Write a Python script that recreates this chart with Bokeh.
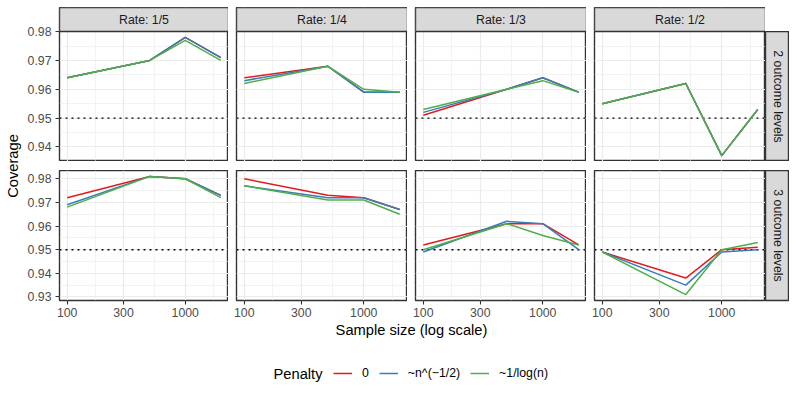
import math
from bokeh.plotting import figure
from bokeh.layouts import row, column
from bokeh.models import (Range1d, FixedTicker, PrintfTickFormatter, Spacer, Label,
                          Legend, LegendItem, Span)
from bokeh.core.properties import value
from bokeh.embed import file_html
from bokeh.resources import INLINE

# ---------------- data ----------------
sample_size = [100, 500, 1000, 2000]
x_tick_values = [100, 300, 1000]
x_minor_values = [math.sqrt(a * b) for a, b in zip([100, 300, 1000], [300, 1000, 3000])]
rate_labels = ["Rate: 1/5", "Rate: 1/4", "Rate: 1/3", "Rate: 1/2"]
level_labels = ["2 outcome levels", "3 outcome levels"]
penalty_labels = ["0", "~n^(\u22121/2)", "~1/log(n)"]
penalty_colors = ["#E41A1C", "#377EB8", "#4DAF4A"]
target_coverage = 0.95

# each panel: one list per penalty (0, ~n^(-1/2), ~1/log(n)), values at sample_size
lv2_rate_1_5 = [[0.964, 0.970, 0.978, 0.971], [0.964, 0.970, 0.978, 0.971], [0.964, 0.970, 0.977, 0.970]]
lv2_rate_1_4 = [[0.964, 0.968, 0.959, 0.959], [0.963, 0.968, 0.959, 0.959], [0.962, 0.968, 0.960, 0.959]]
lv2_rate_1_3 = [[0.951, 0.960, 0.964, 0.959], [0.952, 0.960, 0.964, 0.959], [0.953, 0.960, 0.963, 0.959]]
lv2_rate_1_2 = [[0.955, 0.962, 0.937, 0.953], [0.955, 0.962, 0.937, 0.953], [0.955, 0.962, 0.937, 0.953]]

lv3_rate_1_5 = [[0.972, 0.981, 0.980, 0.973], [0.969, 0.981, 0.980, 0.973], [0.968, 0.981, 0.980, 0.972]]
lv3_rate_1_4 = [[0.980, 0.973, 0.972, 0.967], [0.977, 0.972, 0.972, 0.967], [0.977, 0.971, 0.971, 0.965]]
lv3_rate_1_3 = [[0.952, 0.961, 0.961, 0.952], [0.949, 0.962, 0.961, 0.950], [0.950, 0.961, 0.956, 0.952]]
lv3_rate_1_2 = [[0.949, 0.938, 0.950, 0.951], [0.949, 0.935, 0.949, 0.950], [0.949, 0.931, 0.950, 0.953]]

y_ticks_lv2 = [0.94, 0.95, 0.96, 0.97, 0.98]
y_ticks_lv3 = [0.93, 0.94, 0.95, 0.96, 0.97, 0.98]
y_minor = [0.935, 0.945, 0.955, 0.965, 0.975]

rows_data = [[lv2_rate_1_5, lv2_rate_1_4, lv2_rate_1_3, lv2_rate_1_2],
             [lv3_rate_1_5, lv3_rate_1_4, lv3_rate_1_3, lv3_rate_1_2]]
rows_ticks = [y_ticks_lv2, y_ticks_lv3]

# ---------------- style / layout ----------------
FONT = "Liberation Sans"
SMALL = "12.3px"
BIG = "14.7px"
LW = 1.5
PW, PH = 171, 130          # panel frame size
STRIP = 24                 # strip thickness
TOP = 7                    # space above the strips
ROWGAP = 9
YLAB_W = 24
YAX = 33                   # left axis area
PADL = 3                   # small left border of the other panels
SPACER = 5
XAX = 22                   # bottom axis area

lo, hi = math.log10(min(sample_size)), math.log10(max(sample_size))
pad = 0.05 * (hi - lo)
x_lo, x_hi = 10 ** (lo - pad), 10 ** (hi + pad)


def y_limits(panels):
    vals = [v for pnl in panels for ser in pnl for v in ser]
    a, b = min(vals), max(vals)
    e = 0.05 * (b - a)
    return a - e, b + e


def style_grid(p, xt, yt):
    p.xgrid.ticker = xt
    p.ygrid.ticker = yt
    for g in (p.xgrid[0], p.ygrid[0]):
        g.grid_line_color = "#EBEBEB"
        g.grid_line_width = 1.2
        g.minor_grid_line_color = "#EBEBEB"
        g.minor_grid_line_width = 0.6


def style_axis(ax, standoff):
    ax.axis_line_color = None
    ax.major_tick_line_color = "#333333"
    ax.major_tick_line_width = 1.1
    ax.major_tick_in = 0
    ax.major_tick_out = 4
    ax.minor_tick_line_color = None
    ax.major_label_standoff = standoff
    ax.major_label_text_color = "#4D4D4D"
    ax.major_label_text_font = FONT
    ax.major_label_text_font_size = SMALL


def make_panel(ri, ci, panel, yr, yticks):
    has_y = ci == 0
    has_x = ri == 1
    has_strip = ri == 0
    y0, y1 = yr
    frame_h = PH
    extra = {}
    if has_strip:
        # frame also holds the strip on top
        frame_h = PH + STRIP
        y1 = y1 + (y1 - y0) * STRIP / PH
        extra = {"strip": Range1d(-PH / STRIP, 1)}
    left = YAX if has_y else PADL
    p = figure(width=PW + left, height=frame_h + (XAX if has_x else 0),
               x_axis_type="log", x_range=Range1d(x_lo, x_hi), y_range=Range1d(y0, y1),
               x_axis_location="below" if has_x else None,
               y_axis_location="left" if has_y else None,
               output_backend="svg", toolbar_location=None,
               min_border_left=left, min_border_right=0,
               min_border_top=0, min_border_bottom=XAX if has_x else 0,
               background_fill_color="white", border_fill_color="white",
               outline_line_color="#333333", outline_line_width=1.4)
    if extra:
        p.extra_y_ranges = extra
    xt = FixedTicker(ticks=x_tick_values, minor_ticks=x_minor_values)
    yt = FixedTicker(ticks=yticks, minor_ticks=y_minor)
    style_grid(p, xt, yt)
    if has_x:
        p.xaxis.ticker = xt
        p.xaxis.formatter = PrintfTickFormatter(format="%d")
        style_axis(p.xaxis[0], 3)
    if has_y:
        p.yaxis.ticker = yt
        p.yaxis.formatter = PrintfTickFormatter(format="%.2f")
        style_axis(p.yaxis[0], 4)
    p.add_layout(Span(location=target_coverage, dimension="width", line_color="black",
                      line_width=1.4, line_dash="2 4", level="underlay"))
    for ser, col in zip(panel, penalty_colors):
        p.line(sample_size, ser, line_color=col, line_width=LW, line_join="round")
    if has_strip:
        p.quad(left=[x_lo], right=[x_hi], bottom=[0], top=[1], y_range_name="strip",
               fill_color="#D9D9D9", line_color="#333333", line_width=1.4)
        p.text(x=[math.sqrt(x_lo * x_hi)], y=[0.5], text=[rate_labels[ci]],
               y_range_name="strip", text_align="center", text_baseline="middle",
               text_font=value(FONT), text_font_size=SMALL, text_color="#1A1A1A")
    return p


def make_side_strip(text, bottom=0):
    s = figure(width=STRIP, height=PH + bottom, x_range=Range1d(0, 1), y_range=Range1d(0, 1),
               output_backend="svg", toolbar_location=None,
               x_axis_location=None, y_axis_location=None,
               min_border_left=0, min_border_right=0, min_border_top=0, min_border_bottom=bottom,
               background_fill_color="#D9D9D9", border_fill_color="white",
               outline_line_color="#333333", outline_line_width=1.4)
    s.grid.visible = False
    s.text(x=[0.5], y=[0.5], text=[text], angle=-math.pi / 2, text_align="center",
           text_baseline="middle", text_font=value(FONT), text_font_size=SMALL,
           text_color="#1A1A1A")
    return s


def plain(w, h):
    f = figure(width=w, height=h, x_range=Range1d(0, 1), y_range=Range1d(0, 1),
               output_backend="svg", toolbar_location=None,
               x_axis_location=None, y_axis_location=None,
               min_border_left=0, min_border_right=0, min_border_top=0, min_border_bottom=0,
               outline_line_color=None, background_fill_color="white",
               border_fill_color="white")
    f.grid.visible = False
    return f


def screen_label(x, y, text, size, align="center", angle=0.0):
    return Label(x=x, y=y, x_units="screen", y_units="screen", text=text, angle=angle,
                 text_align=align, text_baseline="middle", text_font=FONT,
                 text_font_size=size, text_color="black")


limits = [y_limits(r) for r in rows_data]
columns = []
for ci in range(4):
    top = make_panel(0, ci, rows_data[0][ci], limits[0], rows_ticks[0])
    bot = make_panel(1, ci, rows_data[1][ci], limits[1], rows_ticks[1])
    w = top.width
    columns.append(column(Spacer(width=w, height=TOP), top,
                          Spacer(width=w, height=ROWGAP), bot))
side = column(Spacer(width=STRIP, height=TOP + STRIP), make_side_strip(level_labels[0]),
              Spacer(width=STRIP, height=ROWGAP), make_side_strip(level_labels[1], bottom=XAX))

grid_h = TOP + STRIP + PH + ROWGAP + PH + XAX
total_w = YLAB_W + YAX + 4 * PW + 3 * (PADL + SPACER) + STRIP

ylab = plain(YLAB_W, grid_h)
panels_mid = TOP + STRIP + (2 * PH + ROWGAP) / 2
ylab.add_layout(screen_label(12.5, grid_h - panels_mid, "Coverage", BIG,
                             angle=math.pi / 2))

row_children = [ylab]
for ci, c in enumerate(columns):
    if ci:
        row_children.append(Spacer(width=SPACER, height=grid_h))
    row_children.append(c)
row_children.append(side)
main = row(*row_children)

xlab_h = 16
xlab = plain(total_w, xlab_h)
panels_center = YLAB_W + YAX + (4 * PW + 3 * (PADL + SPACER)) / 2
xlab.add_layout(screen_label(panels_center, 9, "Sample size (log scale)", BIG))

leg_h = 45
leg = plain(total_w, leg_h)
items = []
for ser, lab, col in zip(lv3_rate_1_2, penalty_labels, penalty_colors):
    # lines lie outside this figure's ranges: only their legend keys show
    r = leg.line(sample_size, ser, line_color=col, line_width=LW)
    items.append(LegendItem(label=value(lab), renderers=[r]))
legend = Legend(items=items, orientation="horizontal", location=(333, 0),
                padding=0, margin=0, spacing=10, label_standoff=10,
                glyph_width=19, glyph_height=20, label_height=20, label_width=1,
                border_line_color=None, background_fill_alpha=0,
                label_text_font=FONT, label_text_font_size=SMALL,
                label_text_color="black")
leg.add_layout(legend)
leg.add_layout(screen_label(273, 10, "Penalty", BIG, align="left"))

layout = column(main, xlab, leg)

open("out.html", "w").write(file_html(layout, INLINE))
